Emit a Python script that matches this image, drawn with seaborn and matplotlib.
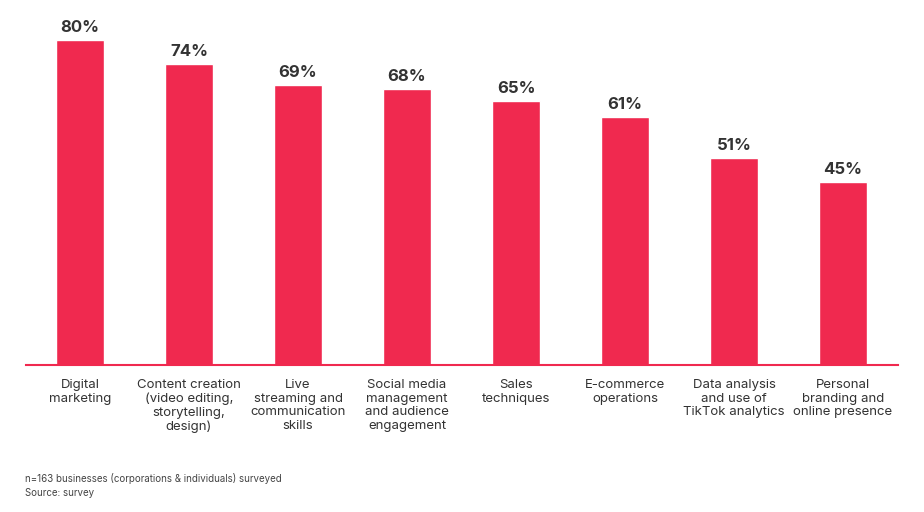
import matplotlib
matplotlib.use("Agg")
import matplotlib.pyplot as plt
import seaborn as sns
import pandas as pd

categories = ["Digital\nmarketing", "Content creation\n(video editing,\nstorytelling,\ndesign)",
              "Live\nstreaming and\ncommunication\nskills", "Social media\nmanagement\nand audience\nengagement",
              "Sales\ntechniques", "E-commerce\noperations", "Data analysis\nand use of\nTikTok analytics",
              "Personal\nbranding and\nonline presence"]
values = [80, 74, 69, 68, 65, 61, 51, 45]
color = "#F0294F"

sns.set_theme(style="white")
plt.rcParams['font.family'] = ['Inter', 'DejaVu Sans']

fig = plt.figure(figsize=(9.24, 5.12), dpi=100)
ax = fig.add_axes([25.5/924, (512-365)/512, 872/924, 345/512])
df = pd.DataFrame({"cat": categories, "val": values})
sns.barplot(data=df, x="cat", y="val", color=color, width=0.44, saturation=1, ax=ax)
ax.set_xlim(-0.5, 7.5)
ax.set_ylim(0, 345/4.0625)
for i, v in enumerate(values):
    ax.text(i, v + 1.2, f"{v}%", ha="center", va="bottom", fontsize=12, fontweight="bold", color="#333333")
for s in ["top", "right", "left"]:
    ax.spines[s].set_visible(False)
ax.spines["bottom"].set_color(color)
ax.spines["bottom"].set_linewidth(1.5)
ax.set_yticks([])
ax.set_xlabel(""); ax.set_ylabel("")
ax.tick_params(axis="x", length=0, pad=10, labelsize=9.5, labelcolor="#333333")
fig.text(25/924, 1-478/512, "n=163 businesses (corporations & individuals) surveyed", fontsize=7, color="#444444", va="center")
fig.text(25/924, 1-493/512, "Source: survey", fontsize=7, color="#444444", va="center")
fig.savefig("out.png", dpi=100, facecolor="white")
